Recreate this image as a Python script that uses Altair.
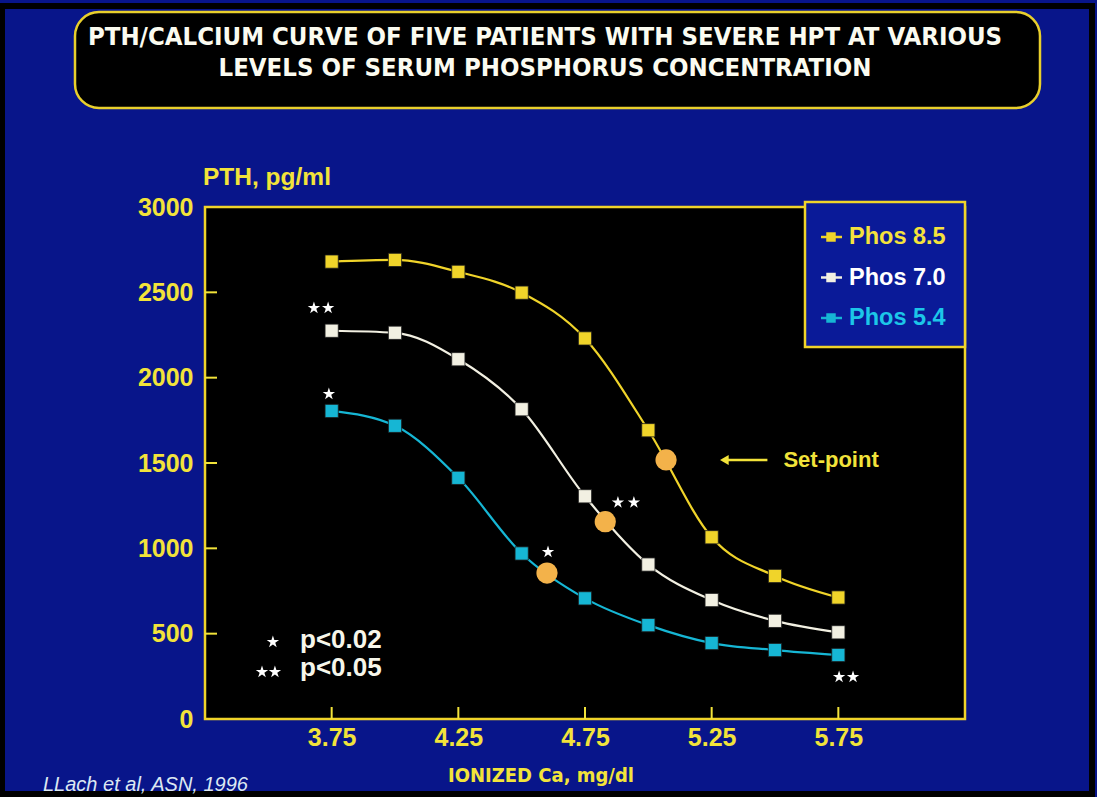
import altair as alt
import pandas as pd

# ---------------- data ----------------
ca = [3.75, 4.0, 4.25, 4.5, 4.75, 5.0, 5.25, 5.5, 5.75]
phos_85 = [2680, 2690, 2620, 2498, 2230, 1692, 1065, 838, 712]
phos_70 = [2275, 2263, 2108, 1815, 1305, 905, 697, 575, 508]
phos_54 = [1805, 1718, 1413, 970, 707, 550, 445, 404, 375]
series_names = ["Phos 8.5", "Phos 7.0", "Phos 5.4"]
series_colors = ["#f0d42a", "#f2f0e2", "#16b6d4"]
legend_text_colors = ["#f5e23c", "#ffffff", "#1cc6e8"]

setpoint_ca = [5.07, 4.83, 4.60]
setpoint_pth = [1518, 1156, 855]

star_ca = [3.680, 3.736, 3.739, 4.880, 4.943, 4.604, 5.753, 5.808, 3.518, 3.475, 3.526]
star_pth = [2408, 2408, 1904, 1268, 1268, 978, 246, 246, 451, 275, 275]

x_ticks = [3.75, 4.25, 4.75, 5.25, 5.75]
y_ticks = [0, 500, 1000, 1500, 2000, 2500, 3000]

title_lines = ["PTH/CALCIUM CURVE OF FIVE PATIENTS WITH SEVERE HPT AT VARIOUS",
               "LEVELS OF SERUM PHOSPHORUS CONCENTRATION"]
y_title = "PTH, pg/ml"
x_title = "IONIZED Ca, mg/dl"
footnote = "LLach et al, ASN, 1996"
p_labels = ["p<0.02", "p<0.05"]
setpoint_label = "Set-point"
arrow_ca = [5.30, 5.47]
arrow_pth = 1518

# ---------------- styling ----------------
W, H = 760, 512
NAVY = "#08158a"
YEL = "#f2e33a"
BOLD = "Liberation Sans"
NARROW = "Liberation Sans Narrow, DejaVu Sans Condensed, sans-serif"

rows = []
for name, vals in zip(series_names, [phos_85, phos_70, phos_54]):
    for c, v in zip(ca, vals):
        rows.append({"ca": c, "pth": v, "series": name})
df = pd.DataFrame(rows)
sp_df = pd.DataFrame({"ca": setpoint_ca, "pth": setpoint_pth})
star_df = pd.DataFrame({"ca": star_ca, "pth": star_pth})
xt_df = pd.DataFrame({"ca": x_ticks})
yt_df = pd.DataFrame({"pth": y_ticks[1:-1]})
one = pd.DataFrame({"k": [0]})

xs = alt.Scale(domain=[3.25, 6.25], nice=False, zero=False)
ys = alt.Scale(domain=[0, 3000], nice=False)
cs = alt.Scale(domain=series_names, range=series_colors)

x_axis = alt.Axis(values=x_ticks, format=".2f", title=None, labelPadding=6)
y_axis = alt.Axis(values=y_ticks, format="d", title=None, labelPadding=12)


def X(field="ca:Q"):
    return alt.X(field, scale=xs, axis=x_axis)


def Y():
    return alt.Y("pth:Q", scale=ys, axis=y_axis)


lines = alt.Chart(df).mark_line(interpolate="monotone", strokeWidth=2.2).encode(
    x=X(), y=Y(),
    color=alt.Color("series:N", scale=cs, legend=None),
    detail="series:N",
)
squares = alt.Chart(df).mark_square(size=175, stroke="#1a1a1a", strokeWidth=0.8, opacity=1).encode(
    x=X(), y=Y(), color=alt.Color("series:N", scale=cs, legend=None)
)
setpoints = alt.Chart(sp_df).mark_circle(size=450, color="#f3b24a", opacity=1).encode(x=X(), y=Y())

star_path = ("M0,-1L0.2245,-0.309L0.951,-0.309L0.363,0.118L0.588,0.809L0,0.382"
             "L-0.588,0.809L-0.363,0.118L-0.951,-0.309L-0.2245,-0.309Z")
stars = alt.Chart(star_df).mark_point(shape=star_path, filled=True, size=170,
                                      color="#ffffff", opacity=1).encode(x=X(), y=Y())

xticks = alt.Chart(xt_df).mark_rule(color=YEL, strokeWidth=2).encode(
    x=X(), y=alt.value(H), y2=alt.value(H - 12))
yticks = alt.Chart(yt_df).mark_rule(color=YEL, strokeWidth=2).encode(
    y=Y(), x=alt.value(0), x2=alt.value(12))

# arrow + set-point label
arrow_df = pd.DataFrame({"ca": [arrow_ca[0]], "ca2": [arrow_ca[1]], "pth": [arrow_pth]})
arrow_line = alt.Chart(arrow_df).mark_rule(color=YEL, strokeWidth=2.5).encode(
    x=X(), x2="ca2:Q", y=Y())
arrow_head = alt.Chart(arrow_df).mark_point(shape="triangle-left", filled=True, size=100,
                                            color=YEL, opacity=1).encode(x=X(), y=Y())
setpoint_text = alt.Chart(arrow_df).mark_text(text=setpoint_label, align="left", baseline="middle",
                                              font=BOLD, fontWeight="bold", fontSize=22,
                                              color=YEL, dx=16).encode(
    x=X("ca2:Q"), y=Y())

# title box
title_box = alt.Chart(one).mark_rect(cornerRadius=24, fill="black", stroke="#e8cf2c",
                                     strokeWidth=2.5).encode(
    x=alt.value(-130), x2=alt.value(835), y=alt.value(-195), y2=alt.value(-99))
title_texts = [
    alt.Chart(one).mark_text(text=t, align="center", baseline="middle", font=NARROW,
                             fontWeight="bold", fontSize=25.5, color="#fbfbf0").encode(
        x=alt.value(340), y=alt.value(yy))
    for t, yy in zip(title_lines, [-170, -139])
]

# axis titles and footnote
ytitle = alt.Chart(one).mark_text(text=y_title, align="left", baseline="middle", font=BOLD,
                                  fontWeight="bold", fontSize=24.5, color=YEL).encode(
    x=alt.value(-2), y=alt.value(-29))
xtitle = alt.Chart(one).mark_text(text=x_title, align="center", baseline="middle", font=NARROW,
                                  fontWeight="bold", fontSize=20, color=YEL).encode(
    x=alt.value(336), y=alt.value(569))
foot = alt.Chart(one).mark_text(text=footnote, align="left", baseline="middle", font=BOLD,
                                fontStyle="italic", fontSize=20, color="#dce8f2").encode(
    x=alt.value(-162), y=alt.value(578))

# p-value legend text
p_texts = [
    alt.Chart(one).mark_text(text=t, align="left", baseline="middle", font=BOLD,
                             fontWeight="bold", fontSize=26, color="#f6f6ea").encode(
        x=alt.value(95), y=alt.value(yy))
    for t, yy in zip(p_labels, [433, 461])
]

# custom legend
legend_box = alt.Chart(one).mark_rect(fill="#0a1a98", stroke="#f0d42a", strokeWidth=2.5).encode(
    x=alt.value(600), x2=alt.value(760), y=alt.value(-5), y2=alt.value(140))
legend_layers = [legend_box]
for i, (name, col, tcol) in enumerate(zip(series_names, series_colors, legend_text_colors)):
    yy = 30 + 40.5 * i
    legend_layers.append(alt.Chart(one).mark_rule(color=col, strokeWidth=2.5).encode(
        x=alt.value(616), x2=alt.value(637), y=alt.value(yy)))
    legend_layers.append(alt.Chart(one).mark_square(size=90, color=col, opacity=1).encode(
        x=alt.value(626), y=alt.value(yy)))
    legend_layers.append(alt.Chart(one).mark_text(text=name, align="left", baseline="middle",
                                                  font=BOLD, fontWeight="bold", fontSize=23.5,
                                                  color=tcol).encode(
        x=alt.value(644), y=alt.value(yy)))

frame = alt.Chart(one).mark_rect(fill=None, stroke="black", strokeWidth=6).encode(
    x=alt.value(-203), x2=alt.value(887), y=alt.value(-201), y2=alt.value(587))

chart = alt.layer(
    lines, frame, title_box, *title_texts, ytitle, xtitle, foot,
    xticks, yticks, squares, setpoints, stars,
    arrow_line, arrow_head, setpoint_text, *p_texts, *legend_layers,
).properties(
    width=W, height=H,
    padding={"left": 205, "top": 207, "right": 132, "bottom": 78},
    autosize=alt.AutoSizeParams(type="none"),
    background=NAVY,
).configure_view(
    fill="black", stroke="#f0d42a", strokeWidth=2.5
).configure_axis(
    domain=False, ticks=False, grid=False,
    labelColor=YEL, labelFont=BOLD, labelFontWeight="bold", labelFontSize=25,
)

chart.save("out.html", embed_options={"renderer": "svg", "actions": False})
